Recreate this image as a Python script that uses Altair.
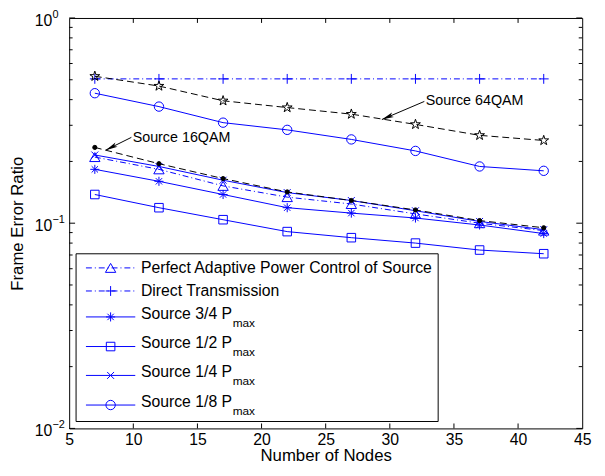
import altair as alt
import pandas as pd

# ---------------- data ----------------
nodes = [7, 12, 17, 22, 27, 32, 37, 42]

fer_direct = [0.505, 0.505, 0.505, 0.505, 0.505, 0.505, 0.505, 0.505]
fer_perfect_64 = [0.52, 0.466, 0.395, 0.366, 0.34, 0.303, 0.268, 0.253]
fer_eighth_64 = [0.43, 0.37, 0.309, 0.285, 0.256, 0.225, 0.189, 0.18]
fer_black_16 = [0.234, 0.195, 0.165, 0.142, 0.129, 0.116, 0.103, 0.095]
fer_perfect_16 = [0.21, 0.183, 0.152, 0.134, 0.124, 0.111, 0.1, 0.092]
fer_quarter = [0.215, 0.189, 0.162, 0.141, 0.129, 0.115, 0.102, 0.093]
fer_three_quarter = [0.183, 0.16, 0.138, 0.119, 0.112, 0.106, 0.098, 0.089]
fer_half = [0.138, 0.119, 0.104, 0.091, 0.085, 0.08, 0.074, 0.071]

x_tick_values = [5, 10, 15, 20, 25, 30, 35, 40, 45]
x_inner_ticks = [10, 15, 20, 25, 30, 35, 40]
y_major = [0.01, 0.1, 1]
y_minor = [0.02, 0.03, 0.04, 0.05, 0.06, 0.07, 0.08, 0.09,
           0.2, 0.3, 0.4, 0.5, 0.6, 0.7, 0.8, 0.9]
y_exponents = ["−2", "−1", "0"]

legend_labels = ["Perfect Adaptive Power Control of Source", "Direct Transmission",
                 "Source 3/4 P", "Source 1/2 P", "Source 1/4 P", "Source 1/8 P"]
legend_subs = ["", "", "max", "max", "max", "max"]

ann_16_text = "Source 16QAM"
ann_16_point = (9.95, 0.259)
ann_16_arrow = (9.85, 0.262, 7.85, 0.227)
ann_64_text = "Source 64QAM"
ann_64_point = (32.8, 0.395)
ann_64_arrow = (32.69, 0.392, 29.38, 0.32)

# ---------------- styles ----------------
BLUE = "#0000ff"
FONT = "Liberation Sans"
W, H = 520, 416
DASHDOT = [6, 3, 1, 3]
DASHED = [7, 4]

PLUS = "M-1,0L1,0M0,-1L0,1"
ASTER = "M-1,0L1,0M0,-1L0,1M-0.7,-0.7L0.7,0.7M-0.7,0.7L0.7,-0.7"
XSHAPE = "M-0.7,-0.7L0.7,0.7M-0.7,0.7L0.7,-0.7"
STAR = ("M0,-1L0.2245,-0.309L0.951,-0.309L0.363,0.118L0.588,0.809L0,0.382"
        "L-0.588,0.809L-0.363,0.118L-0.951,-0.309L-0.2245,-0.309Z")
ARROW = "M0,0L-0.4,2L0,1.55L0.4,2Z"

xs = alt.Scale(domain=[5, 45], nice=False, zero=False)
ys = alt.Scale(type="log", domain=[0.01, 1], nice=False)

X_ENC = alt.X("n:Q", scale=xs, axis=alt.Axis(
    values=x_tick_values, format="d", ticks=False, domain=False, grid=False,
    labelFont=FONT, labelFontSize=16, labelColor="black", labelPadding=3,
    labelFlush=False, labelOverlap=False,
    title="Number of Nodes", titleFont=FONT, titleFontSize=17,
    titleFontWeight="normal", titleColor="black", titlePadding=1))
Y_ENC = alt.Y("fer:Q", scale=ys, axis=alt.Axis(
    labels=False, ticks=False, domain=False, grid=False,
    title="Frame Error Ratio", titleFont=FONT, titleFontSize=17,
    titleFontWeight="normal", titleColor="black", titlePadding=43))


def series(vals, color, dash, shape, size, filled=False):
    df = pd.DataFrame({"n": nodes, "fer": vals})
    base = alt.Chart(df)
    line_kw = dict(color=color, strokeWidth=1)
    if dash:
        line_kw["strokeDash"] = dash
    line = base.mark_line(**line_kw).encode(x=X_ENC, y=Y_ENC)
    pt_kw = dict(shape=shape, size=size, filled=filled, color=color, stroke=color,
                 strokeWidth=1, opacity=1)
    pts = base.mark_point(**pt_kw).encode(x=X_ENC, y=Y_ENC)
    return [line, pts]


layers = []
layers += series(fer_direct, BLUE, DASHDOT, PLUS, 100)
layers += series(fer_perfect_64, "black", DASHED, STAR, 110)
layers += series(fer_eighth_64, BLUE, None, "circle", 90)
layers += series(fer_half, BLUE, None, "square", 75)
layers += series(fer_three_quarter, BLUE, None, ASTER, 85)
layers += series(fer_perfect_16, BLUE, DASHDOT, "triangle-up", 110)
layers += series(fer_quarter, BLUE, None, XSHAPE, 100)
layers += series(fer_black_16, "black", DASHED, "circle", 18, filled=True)

# ---------------- inner ticks (MATLAB style) ----------------
ymaj_df = pd.DataFrame({"fer": y_major})
ymin_df = pd.DataFrame({"fer": y_minor})
xt_df = pd.DataFrame({"n": x_inner_ticks})
for df, ln in ((ymaj_df, 6), (ymin_df, 3.5)):
    layers.append(alt.Chart(df).mark_rule(color="black", strokeWidth=1).encode(
        y=Y_ENC, x=alt.value(0), x2=alt.value(ln)))
    layers.append(alt.Chart(df).mark_rule(color="black", strokeWidth=1).encode(
        y=Y_ENC, x=alt.value(W - ln), x2=alt.value(W)))
layers.append(alt.Chart(xt_df).mark_rule(color="black", strokeWidth=1).encode(
    x=X_ENC, y=alt.value(H), y2=alt.value(H - 5)))
layers.append(alt.Chart(xt_df).mark_rule(color="black", strokeWidth=1).encode(
    x=X_ENC, y=alt.value(0), y2=alt.value(5)))

# ---------------- y tick labels with superscripts ----------------
ylab_df = pd.DataFrame({"fer": y_major, "exp": y_exponents})
layers.append(alt.Chart(ylab_df).mark_text(
    text="10", align="left", baseline="middle", dy=3, font=FONT, fontSize=16,
    color="black").encode(y=Y_ENC, x=alt.value(-35)))
layers.append(alt.Chart(ylab_df).mark_text(
    align="left", baseline="middle", dy=-3, font=FONT, fontSize=11,
    color="black").encode(y=Y_ENC, x=alt.value(-17), text="exp:N"))

# ---------------- annotations ----------------
def annotation(text, pt, arrow, angle):
    out = []
    tdf = pd.DataFrame({"n": [pt[0]], "fer": [pt[1]], "t": [text]})
    out.append(alt.Chart(tdf).mark_text(align="left", baseline="middle", font=FONT,
                                        fontSize=14.5, color="black").encode(
        x=X_ENC, y=Y_ENC, text="t:N"))
    adf = pd.DataFrame({"n": [arrow[0]], "fer": [arrow[1]],
                        "n2": [arrow[2]], "fer2": [arrow[3]]})
    out.append(alt.Chart(adf).mark_rule(color="black", strokeWidth=1).encode(
        x=X_ENC, y=Y_ENC, x2="n2:Q", y2="fer2:Q"))
    hdf = pd.DataFrame({"n": [arrow[2]], "fer": [arrow[3]]})
    out.append(alt.Chart(hdf).mark_point(shape=ARROW, size=150, filled=True,
                                         color="black", opacity=1,
                                         angle=angle).encode(x=X_ENC, y=Y_ENC))
    return out

layers += annotation(ann_16_text, ann_16_point, ann_16_arrow, 243)
layers += annotation(ann_64_text, ann_64_point, ann_64_arrow, 247)

# ---------------- legend ----------------
one = pd.DataFrame({"k": [0]})
layers.append(alt.Chart(one).mark_rect(fill="white", stroke="black", strokeWidth=1).encode(
    x=alt.value(7), x2=alt.value(374), y=alt.value(239), y2=alt.value(409)))

row_y = [253.3, 276.7, 303, 333, 362.3, 392.3]
row_dash = [DASHDOT, DASHDOT, None, None, None, None]
row_shape = ["triangle-up", PLUS, ASTER, "square", XSHAPE, "circle"]
row_size = [110, 100, 85, 75, 100, 90]
for i, lab in enumerate(legend_labels):
    yy = row_y[i]
    kw = dict(color=BLUE, strokeWidth=1)
    if row_dash[i]:
        kw["strokeDash"] = row_dash[i]
    layers.append(alt.Chart(one).mark_rule(**kw).encode(
        x=alt.value(17), x2=alt.value(67), y=alt.value(yy)))
    layers.append(alt.Chart(one).mark_point(shape=row_shape[i], size=row_size[i],
                                            filled=False, color=BLUE, stroke=BLUE,
                                            strokeWidth=1, opacity=1).encode(
        x=alt.value(42), y=alt.value(yy)))
    sub = legend_subs[i]
    ty = yy - 3.3 if sub else yy
    layers.append(alt.Chart(one).mark_text(text=lab, align="left", baseline="middle",
                                           font=FONT, fontSize=16, color="black").encode(
        x=alt.value(72.7), y=alt.value(ty)))
    if sub:
        layers.append(alt.Chart(one).mark_text(text=sub, align="left", baseline="middle",
                                               font=FONT, fontSize=12, color="black").encode(
            x=alt.value(165.7), y=alt.value(yy + 6)))

chart = alt.layer(*layers).properties(
    width=W, height=H,
    autosize=alt.AutoSizeParams(type="none"),
    padding={"left": 62, "top": 7, "right": 15, "bottom": 37},
    background="white",
).configure_view(stroke="black", strokeWidth=1)

chart.save("out.html", embed_options={"renderer": "svg", "actions": False})
